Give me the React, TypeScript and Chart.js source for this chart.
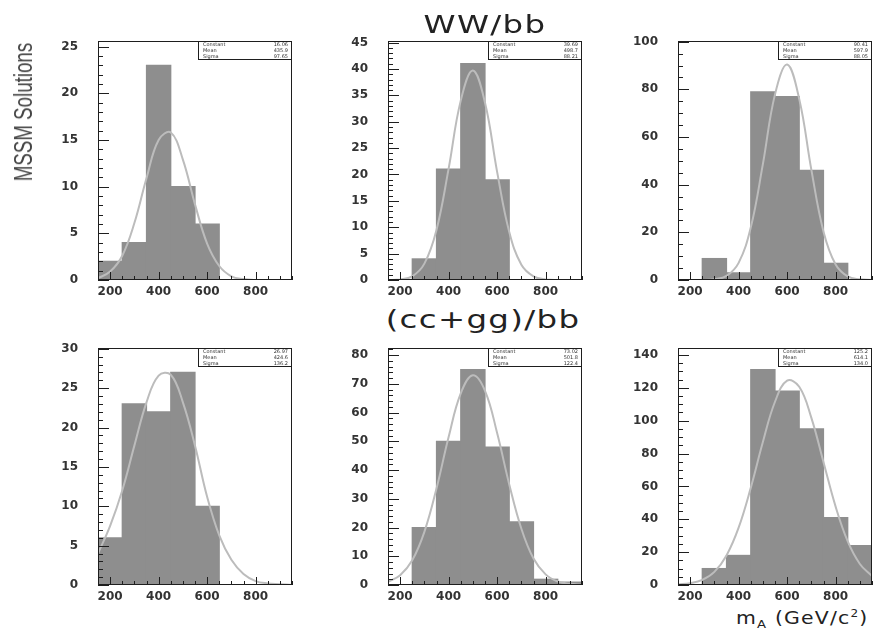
import React, { useEffect, useRef } from "react";
import { Chart, registerables } from "chart.js";
Chart.register(...registerables);

// ---------- data ----------
const binCenters = [200, 300, 400, 500, 600, 700, 800, 900];
const curveMass = [150, 200, 250, 300, 350, 400, 450, 500, 550, 600, 650, 700, 750, 800, 850, 900, 950];
const xTickValues = [200, 400, 600, 800];

const wwLeftCounts = [2, 4, 23, 10, 6, 0, 0, 0];
const wwMidCounts = [0, 4, 21, 41, 19, 0, 0, 0];
const wwRightCounts = [0, 9, 3, 79, 77, 46, 7, 0];
const ccLeftCounts = [6, 23, 22, 27, 10, 0, 0, 0];
const ccMidCounts = [0, 20, 50, 75, 48, 22, 2, 1];
const ccRightCounts = [0, 10, 18, 131, 118, 95, 41, 24];

const wwLeftFit = [0.2, 0.9, 2.6, 6.1, 10.9, 15.0, 15.8, 12.9, 8.1, 3.9, 1.5, 0.4, 0.1, 0, 0, 0, 0];
const wwMidFit = [0, 0.1, 0.7, 3.1, 9.5, 21.1, 34.0, 39.7, 33.6, 20.5, 9.1, 2.9, 0.7, 0.1, 0, 0, 0];
const wwRightFit = [0, 0, 0, 0.3, 1.7, 7.2, 22.0, 48.6, 77.9, 90.4, 75.9, 46.2, 20.3, 6.5, 1.5, 0.3, 0];
const ccLeftFit = [4.0, 7.5, 12.0, 17.7, 23.2, 26.6, 26.7, 23.2, 17.7, 11.2, 6.3, 3.2, 1.4, 0.5, 0.2, 0.1, 0];
const ccMidFit = [1.1, 3.4, 8.6, 18.5, 33.6, 51.5, 66.7, 73.0, 67.6, 52.9, 35.0, 19.6, 9.2, 3.7, 1.2, 0.4, 0.1];
const ccRightFit = [0.3, 1.1, 3.1, 8.0, 18.0, 34.9, 59.1, 87.0, 111.5, 124.3, 120.6, 101.7, 74.7, 47.7, 26.5, 12.8, 5.4];

const yTicksWwLeft = [0, 5, 10, 15, 20, 25];
const yTicksWwMid = [0, 5, 10, 15, 20, 25, 30, 35, 40, 45];
const yTicksWwRight = [0, 20, 40, 60, 80, 100];
const yTicksCcLeft = [0, 5, 10, 15, 20, 25, 30];
const yTicksCcMid = [0, 10, 20, 30, 40, 50, 60, 70, 80];
const yTicksCcRight = [0, 20, 40, 60, 80, 100, 120, 140];

const statsLabels = ["Constant", "Mean", "Sigma"];
const statsWwLeft = ["16.06", "435.9", "97.65"];
const statsWwMid = ["39.69", "498.7", "88.21"];
const statsWwRight = ["90.41", "597.9", "88.05"];
const statsCcLeft = ["26.97", "424.6", "136.2"];
const statsCcMid = ["73.02", "501.8", "122.4"];
const statsCcRight = ["125.2", "614.1", "134.0"];

// ---------- layout (styling) ----------
const FRAME_LEFT = [98, 388, 678];
const FRAME_W = 194;
const FRAME_TOP = [41, 348];
const FRAME_BOTTOM = [280, 585];
const AXIS_W = 62;
const AXIS_H = 22;
const PAD_TOP = 10;
const PAD_RIGHT = 3;

const panels = [
  { counts: wwLeftCounts, fit: wwLeftFit, yTicks: yTicksWwLeft, stats: statsWwLeft, yMax: 25.6, yMinor: 1, col: 0, row: 0 },
  { counts: wwMidCounts, fit: wwMidFit, yTicks: yTicksWwMid, stats: statsWwMid, yMax: 45.3, yMinor: 1, col: 1, row: 0 },
  { counts: wwRightCounts, fit: wwRightFit, yTicks: yTicksWwRight, stats: statsWwRight, yMax: 100.3, yMinor: 5, col: 2, row: 0 },
  { counts: ccLeftCounts, fit: ccLeftFit, yTicks: yTicksCcLeft, stats: statsCcLeft, yMax: 30.1, yMinor: 1, col: 0, row: 1 },
  { counts: ccMidCounts, fit: ccMidFit, yTicks: yTicksCcMid, stats: statsCcMid, yMax: 82.5, yMinor: 2, col: 1, row: 1 },
  { counts: ccRightCounts, fit: ccRightFit, yTicks: yTicksCcRight, stats: statsCcRight, yMax: 144.2, yMinor: 5, col: 2, row: 1 },
];

const tickFont = { family: '"DejaVu Sans"', size: 12, weight: "bold" as const };

const framePlugin = {
  id: "frame",
  afterDatasetsDraw(chart: any, _args: any, opts: any) {
    const { ctx, chartArea: a } = chart;
    const xs = chart.scales.x;
    const ys = chart.scales.y;
    ctx.save();
    ctx.strokeStyle = "#1e1e1e";
    ctx.lineWidth = 1;
    ctx.beginPath();
    for (let v = 0; v <= ys.max + 1e-9; v += opts.yMinor) {
      const py = Math.round(ys.getPixelForValue(v)) + 0.5;
      const len = opts.yTicks.includes(v) ? 11 : 5;
      ctx.moveTo(a.left, py);
      ctx.lineTo(a.left + len, py);
    }
    for (let v = 150; v <= 950; v += 50) {
      const px = Math.round(xs.getPixelForValue(v)) + 0.5;
      const len = xTickValues.includes(v) ? 8 : 4;
      ctx.moveTo(px, a.bottom);
      ctx.lineTo(px, a.bottom - len);
    }
    ctx.stroke();
    ctx.strokeRect(Math.round(a.left) + 0.5, Math.round(a.top) + 0.5, Math.round(a.right - a.left) - 1, Math.round(a.bottom - a.top) - 1);
    // stats box
    const bw = 94, bh = 19;
    const bx = Math.round(a.right) - bw;
    const by = Math.round(a.top);
    ctx.fillStyle = "#fff";
    ctx.fillRect(bx, by, bw, bh);
    ctx.strokeRect(bx + 0.5, by + 0.5, bw - 1, bh - 1);
    ctx.font = '5px "DejaVu Sans"';
    ctx.fillStyle = "#333";
    ctx.textBaseline = "middle";
    statsLabels.forEach((lab, i) => {
      const yy = by + 4 + i * 5.8;
      ctx.textAlign = "left";
      ctx.fillText(lab, bx + 5, yy);
      ctx.textAlign = "right";
      ctx.fillText(opts.stats[i], bx + bw - 4, yy);
    });
    ctx.restore();
  },
};

function Panel({ p }: { p: any }) {
  const ref = useRef<HTMLCanvasElement | null>(null);
  const L = FRAME_LEFT[p.col] - AXIS_W;
  const T = FRAME_TOP[p.row] - PAD_TOP;
  const W = FRAME_LEFT[p.col] + FRAME_W + PAD_RIGHT - L;
  const H = FRAME_BOTTOM[p.row] + AXIS_H - T;

  useEffect(() => {
    if (!ref.current) return;
    const chart = new Chart(ref.current, {
      type: "bar",
      data: {
        datasets: [
          {
            type: "line",
            data: curveMass.map((m, i) => ({ x: m, y: p.fit[i] })),
            borderColor: "#bcbcbc",
            borderWidth: 2,
            pointRadius: 0,
            tension: 0.4,
            order: 0,
          } as any,
          {
            type: "bar",
            data: binCenters.map((m, i) => ({ x: m, y: p.counts[i] })),
            backgroundColor: "#8e8e8e",
            borderWidth: 0,
            inflateAmount: 0.6,
            barPercentage: 1,
            categoryPercentage: 1,
            order: 1,
          } as any,
        ],
      },
      options: {
        animation: false,
        responsive: false,
        devicePixelRatio: 1,
        layout: { padding: { top: PAD_TOP, right: PAD_RIGHT, left: 0, bottom: 0 } },
        plugins: {
          legend: { display: false },
          tooltip: { enabled: false },
          frame: { yMinor: p.yMinor, yTicks: p.yTicks, stats: p.stats },
        } as any,
        scales: {
          x: {
            type: "linear",
            offset: false,
            min: 150,
            max: 950,
            afterBuildTicks: (s: any) => {
              s.ticks = xTickValues.map((v) => ({ value: v }));
            },
            afterFit: (s: any) => {
              s.height = AXIS_H;
              s.paddingLeft = 0;
              s.paddingRight = 0;
            },
            grid: { display: false, drawTicks: false, offset: false },
            border: { display: false },
            ticks: { padding: 5, font: tickFont, color: "#333", autoSkip: false, maxRotation: 0, callback: (v: any) => String(v) },
          },
          y: {
            type: "linear",
            min: 0,
            max: p.yMax,
            afterBuildTicks: (s: any) => {
              s.ticks = p.yTicks.map((v: number) => ({ value: v }));
            },
            afterFit: (s: any) => {
              s.width = AXIS_W;
              s.paddingTop = 0;
              s.paddingBottom = 0;
            },
            grid: { display: false, drawTicks: false },
            border: { display: false },
            ticks: { padding: 20, font: tickFont, color: "#333", callback: (v: any) => String(v) },
          },
        },
      } as any,
      plugins: [framePlugin],
    });
    return () => chart.destroy();
  }, []);

  return (
    <canvas
      ref={ref}
      width={W}
      height={H}
      style={{ position: "absolute", left: L, top: T, width: W, height: H }}
    />
  );
}

const titleStyle: any = {
  position: "absolute",
  font: '24px "DejaVu Sans"',
  letterSpacing: "1px",
  lineHeight: "24px",
  whiteSpace: "nowrap",
  color: "#222",
  transform: "translateX(-50%) scaleX(1.35)",
};

export default function App() {
  return (
    <div style={{ position: "absolute", left: 0, top: 0, width: 875, height: 633, background: "#fff", overflow: "hidden" }}>
      {panels.map((p, i) => (
        <Panel key={i} p={p} />
      ))}
      <div style={{ ...titleStyle, left: 485, top: 13 }}>WW/bb</div>
      <div style={{ ...titleStyle, left: 483, top: 308 }}>(cc+gg)/bb</div>
      <div
        style={{
          position: "absolute",
          left: 23,
          top: 112,
          font: '26px "Liberation Sans"',
          color: "#444",
          whiteSpace: "nowrap",
          lineHeight: "26px",
          transform: "translate(-50%, -50%) rotate(-90deg) scaleX(0.72)",
        }}
      >
        MSSM Solutions
      </div>
      <div
        style={{
          position: "absolute",
          right: 7,
          top: 610,
          font: '17px "DejaVu Sans"',
          letterSpacing: "1px",
          lineHeight: "17px",
          whiteSpace: "nowrap",
          color: "#222",
          transform: "scaleX(1.2)",
          transformOrigin: "right center",
        }}
      >
        m<sub style={{ fontSize: "11px", lineHeight: 0 }}>A</sub> (GeV/c<sup style={{ fontSize: "10px", lineHeight: 0 }}>2</sup>)
      </div>
    </div>
  );
}
